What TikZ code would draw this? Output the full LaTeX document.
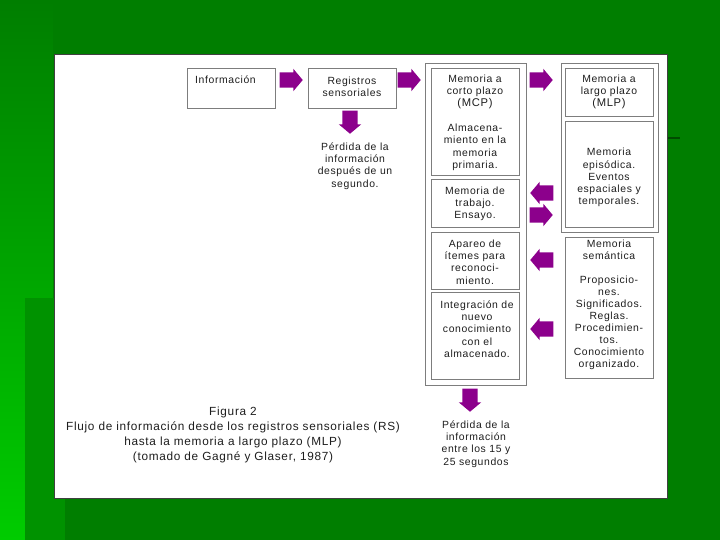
\documentclass[tikz,border=0pt]{standalone}
\usepackage{fontspec}
\setmainfont{Liberation Sans}[LetterSpace=6]
\usetikzlibrary{shapes.arrows,fit}
\definecolor{bgdark}{RGB}{0,126,0}
\definecolor{bgmid}{RGB}{0,146,0}
\definecolor{bgbright}{RGB}{0,204,0}
\definecolor{apurple}{RGB}{140,0,140}
\definecolor{boxline}{RGB}{125,125,125}
\definecolor{inkgray}{RGB}{30,30,30}
\tikzset{
  box/.style={draw=boxline, line width=0.9pt, fill=white, inner sep=0pt},
  outerbox/.style={draw=boxline, line width=0.8pt, fill=white, inner sep=0pt},
  txt/.style={font=\fontsize{10.4}{12.3}\selectfont, align=center, inner sep=0pt, anchor=north, text=inkgray},
  captxt/.style={font=\fontsize{11.8}{15}\selectfont, align=center, inner sep=0pt, anchor=north, text=inkgray},
  parrow/.style={single arrow, fill=apurple, draw=none, inner xsep=0pt, inner ysep=7.5pt,
    minimum width=22pt, minimum height=23pt, single arrow head extend=3.5pt,
    single arrow tip angle=100, anchor=tip}
}
\begin{document}
\begin{tikzpicture}[x=1pt,y=-1pt]
\useasboundingbox (0,0) rectangle (720,540);
% background
\fill[bgdark] (0,0) rectangle (720,540);
\shade[top color=bgdark, bottom color=bgbright] (0,0) rectangle (53,540);
\fill[bgmid] (25,298) rectangle (65,540);
\draw[bgdark!60!black, line width=1.5pt] (667,138) -- (680,138);
% panel
\node[fit={(54,55) (667,498)}, inner sep=0pt, fill=white, draw=black!75, line width=1pt] (panel) {};
% boxes
\node[box, fit={(187,68) (275,108)}] (info) {};
\node[box, fit={(308,68) (396,108)}] (reg) {};
\node[outerbox, fit={(425,63) (526,385)}] (mcpouter) {};
\node[box, fit={(431,68) (519,175)}] (mcp1) {};
\node[box, fit={(431,179) (519,227)}] (mcp2) {};
\node[box, fit={(431,232) (519,289)}] (mcp3) {};
\node[box, fit={(431,292) (519,379)}] (mcp4) {};
\node[outerbox, fit={(561,63) (658,232)}] (mlpouter) {};
\node[box, fit={(565,68) (653,116)}] (mlp1) {};
\node[box, fit={(565,121) (653,227)}] (mlp2) {};
\node[box, fit={(565,237) (653,378)}] (sem) {};
% texts
\node[txt, anchor=north west] (tinfo) at (195,75.5) {Información};
\node[txt] (treg) at (352,76.5) {Registros\\sensoriales};
\node[txt] (tperd1) at (355,142.5) {Pérdida de la\\información\\después de un\\segundo.};
\node[txt] (tmcp1) at (475,74.5) {Memoria a\\corto plazo\\{\fontsize{11.2}{12.3}\selectfont (MCP)}\\[12.3pt]Almacena-\\miento en la\\memoria\\primaria.};
\node[txt] (tmcp2) at (475,186.5) {Memoria de\\trabajo.\\Ensayo.};
\node[txt] (tmcp3) at (475,239.5) {Apareo de\\ítemes para\\reconoci-\\miento.};
\node[txt] (tmcp4) at (477,300.5) {Integración de\\nuevo\\conocimiento\\con el\\almacenado.};
\node[txt] (tmlp1) at (609,74.5) {Memoria a\\largo plazo\\{\fontsize{11.2}{12.3}\selectfont (MLP)}};
\node[txt] (tmlp2) at (609,148) {Memoria\\episódica.\\Eventos\\espaciales y\\temporales.};
\node[txt, font=\fontsize{10.4}{12}\selectfont] (tsem) at (609,240) {Memoria\\semántica\\[12pt]Proposicio-\\nes.\\Significados.\\Reglas.\\Procedimien-\\tos.\\Conocimiento\\organizado.};
\node[txt] (tperd2) at (476,420.5) {Pérdida de la\\información\\entre los 15 y\\25 segundos};
\node[captxt] (tcap) at (233,407) {Figura 2\\Flujo de información desde los registros sensoriales (RS)\\hasta la memoria a largo plazo (MLP)\\(tomado de Gagné y Glaser, 1987)};
% block arrows
\node[parrow] (a1) at (303,80) {};
\node[parrow] (a2) at (421,80) {};
\node[parrow, rotate=-90] (a3) at (350,134) {};
\node[parrow] (a4) at (553,80) {};
\node[parrow, rotate=180] (a5) at (530,193) {};
\node[parrow] (a6) at (553,215) {};
\node[parrow, rotate=180] (a7) at (530,260) {};
\node[parrow, rotate=180] (a8) at (530,329) {};
\node[parrow, rotate=-90] (a9) at (470,412) {};
\end{tikzpicture}
\end{document}
